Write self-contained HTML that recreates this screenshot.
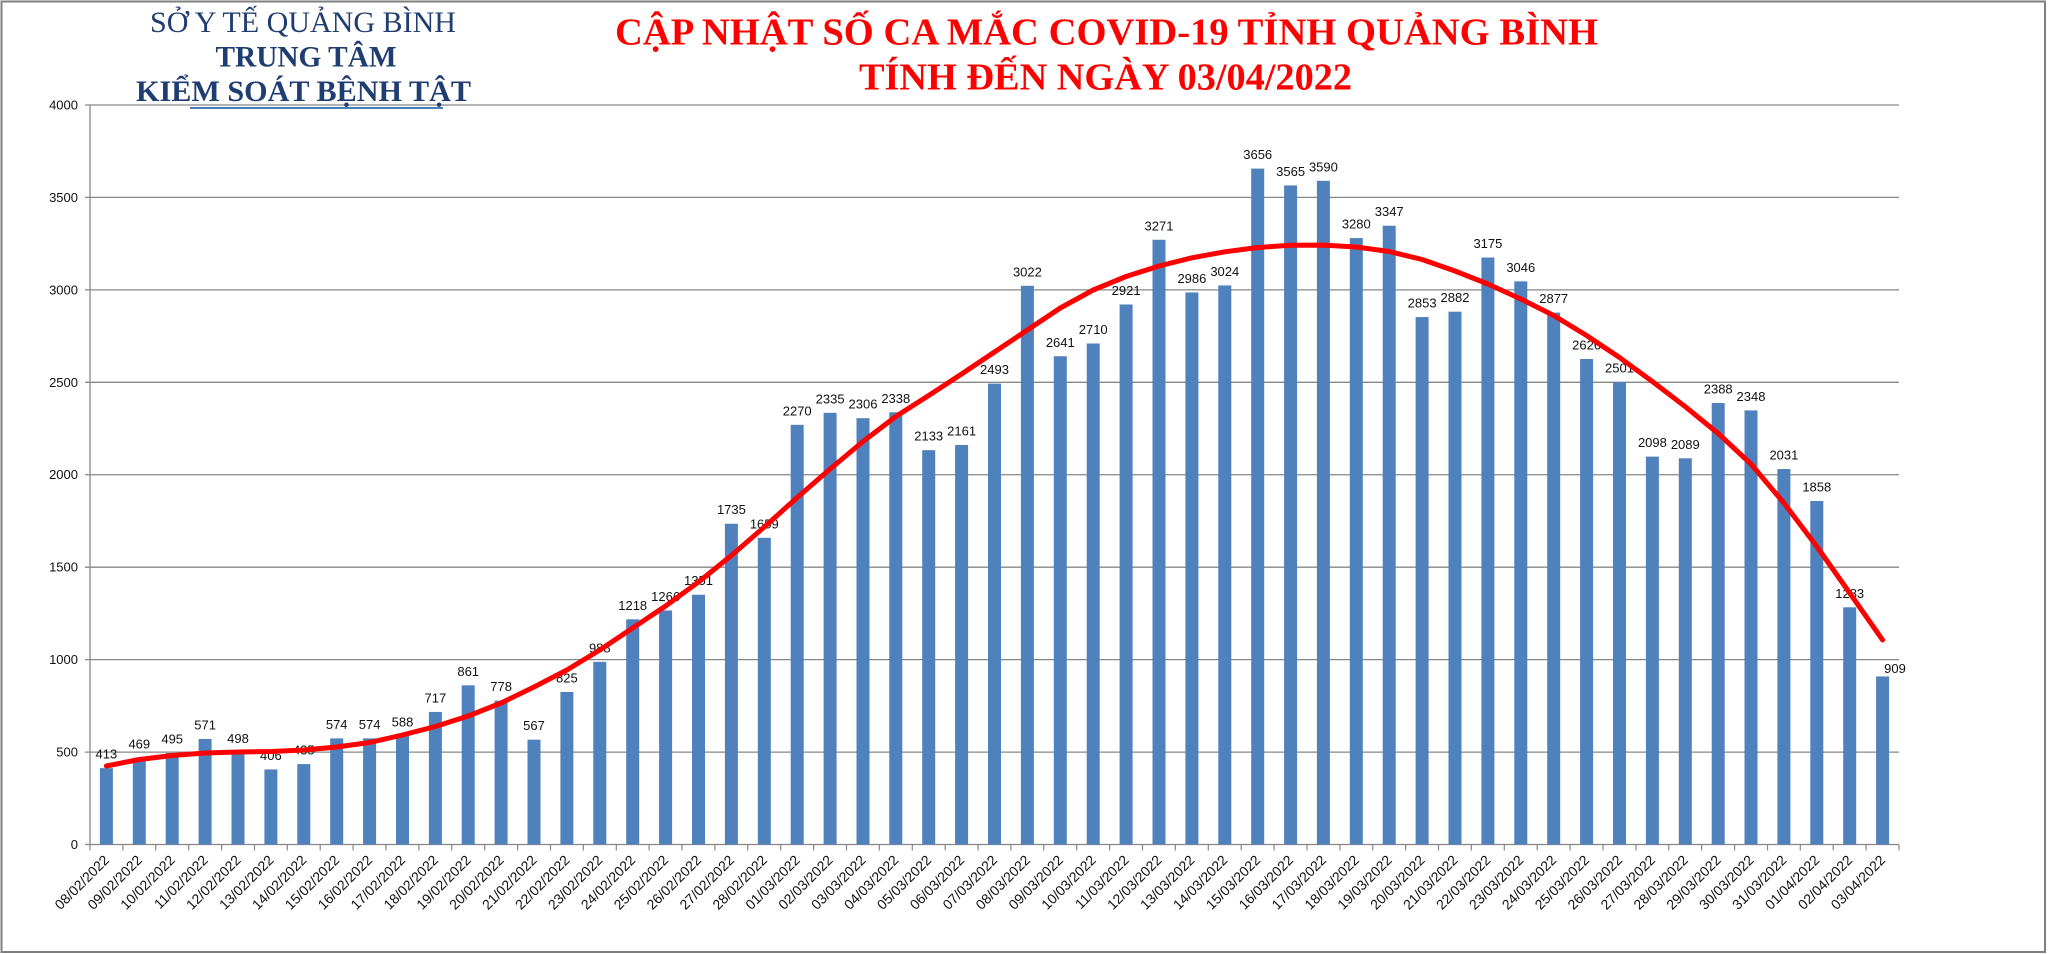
<!DOCTYPE html>
<html>
<head>
<meta charset="utf-8">
<style>
html,body{margin:0;padding:0;background:#fff;}
svg{display:block;}
.ax{font-family:"Liberation Sans",Arial,sans-serif;font-size:13px;fill:#111;}
.xl{font-family:"Liberation Sans",Arial,sans-serif;font-size:14px;fill:#111;}
.dl{font-family:"Liberation Sans",Arial,sans-serif;font-size:13px;fill:#111;text-anchor:middle;}
.hd{font-family:"Liberation Serif","Times New Roman","Noto Serif CJK SC",serif;fill:#1f3d70;text-anchor:middle;font-size:30px;}
.tt{font-family:"Liberation Serif","Times New Roman","Noto Serif CJK SC",serif;fill:#ff0000;text-anchor:middle;font-size:38px;font-weight:bold;}
</style>
</head>
<body>
<svg width="2048" height="954" viewBox="0 0 2048 954" xmlns="http://www.w3.org/2000/svg">
<rect x="0" y="0" width="2048" height="954" fill="#fff"/>
<rect x="1.5" y="1.5" width="2043.5" height="950.5" fill="none" stroke="#7f7f7f" stroke-width="2"/>

<!-- gridlines -->
<g stroke="#878787" stroke-width="1.3">
<line x1="85" y1="105" x2="1899" y2="105"/>
<line x1="85" y1="197.4" x2="1899" y2="197.4"/>
<line x1="85" y1="289.9" x2="1899" y2="289.9"/>
<line x1="85" y1="382.3" x2="1899" y2="382.3"/>
<line x1="85" y1="474.75" x2="1899" y2="474.75"/>
<line x1="85" y1="567.2" x2="1899" y2="567.2"/>
<line x1="85" y1="659.6" x2="1899" y2="659.6"/>
<line x1="85" y1="752.1" x2="1899" y2="752.1"/>
<line x1="85" y1="844.5" x2="1899" y2="844.5"/>
<line x1="90" y1="105" x2="90" y2="844.5"/>
</g>
<path stroke="#878787" stroke-width="1.2" fill="none" d="M90 844.5v6M122.9 844.5v6M155.8 844.5v6M188.7 844.5v6M221.6 844.5v6M254.5 844.5v6M287.3 844.5v6M320.2 844.5v6M353.1 844.5v6M386 844.5v6M418.9 844.5v6M451.8 844.5v6M484.7 844.5v6M517.6 844.5v6M550.5 844.5v6M583.4 844.5v6M616.3 844.5v6M649.1 844.5v6M682 844.5v6M714.9 844.5v6M747.8 844.5v6M780.7 844.5v6M813.6 844.5v6M846.5 844.5v6M879.4 844.5v6M912.3 844.5v6M945.2 844.5v6M978.1 844.5v6M1010.9 844.5v6M1043.8 844.5v6M1076.7 844.5v6M1109.6 844.5v6M1142.5 844.5v6M1175.4 844.5v6M1208.3 844.5v6M1241.2 844.5v6M1274.1 844.5v6M1307 844.5v6M1339.9 844.5v6M1372.8 844.5v6M1405.6 844.5v6M1438.5 844.5v6M1471.4 844.5v6M1504.3 844.5v6M1537.2 844.5v6M1570.1 844.5v6M1603 844.5v6M1635.9 844.5v6M1668.8 844.5v6M1701.7 844.5v6M1734.6 844.5v6M1767.5 844.5v6M1800.3 844.5v6M1833.2 844.5v6M1866.1 844.5v6M1899 844.5v6"/>

<!-- y labels -->
<g class="ax" text-anchor="end">
<text x="78" y="109.5">4000</text>
<text x="78" y="201.9">3500</text>
<text x="78" y="294.4">3000</text>
<text x="78" y="386.8">2500</text>
<text x="78" y="479.2">2000</text>
<text x="78" y="571.7">1500</text>
<text x="78" y="664.1">1000</text>
<text x="78" y="756.6">500</text>
<text x="78" y="849">0</text>
</g>

<!-- bars -->
<g fill="#4f81bd">
<rect x="99.9" y="768.15" width="13" height="76.35"/>
<rect x="132.8" y="757.79" width="13" height="86.71"/>
<rect x="165.7" y="752.99" width="13" height="91.51"/>
<rect x="198.6" y="738.94" width="13" height="105.56"/>
<rect x="231.5" y="752.43" width="13" height="92.07"/>
<rect x="264.4" y="769.44" width="13" height="75.06"/>
<rect x="297.3" y="764.08" width="13" height="80.42"/>
<rect x="330.2" y="738.38" width="13" height="106.12"/>
<rect x="363.1" y="738.38" width="13" height="106.12"/>
<rect x="396" y="735.79" width="13" height="108.71"/>
<rect x="428.9" y="711.94" width="13" height="132.56"/>
<rect x="461.7" y="685.32" width="13" height="159.18"/>
<rect x="494.6" y="700.67" width="13" height="143.83"/>
<rect x="527.5" y="739.68" width="13" height="104.82"/>
<rect x="560.4" y="691.98" width="13" height="152.52"/>
<rect x="593.3" y="661.84" width="13" height="182.66"/>
<rect x="626.2" y="619.32" width="13" height="225.18"/>
<rect x="659.1" y="610.45" width="13" height="234.05"/>
<rect x="692" y="594.73" width="13" height="249.77"/>
<rect x="724.9" y="523.74" width="13" height="320.76"/>
<rect x="757.8" y="537.79" width="13" height="306.71"/>
<rect x="790.7" y="424.83" width="13" height="419.67"/>
<rect x="823.6" y="412.82" width="13" height="431.68"/>
<rect x="856.5" y="418.18" width="13" height="426.32"/>
<rect x="889.3" y="412.26" width="13" height="432.24"/>
<rect x="922.2" y="450.16" width="13" height="394.34"/>
<rect x="955.1" y="444.98" width="13" height="399.52"/>
<rect x="988" y="383.61" width="13" height="460.89"/>
<rect x="1020.9" y="285.81" width="13" height="558.69"/>
<rect x="1053.8" y="356.25" width="13" height="488.25"/>
<rect x="1086.7" y="343.49" width="13" height="501.01"/>
<rect x="1119.6" y="304.48" width="13" height="540.02"/>
<rect x="1152.5" y="239.77" width="13" height="604.73"/>
<rect x="1185.4" y="292.46" width="13" height="552.04"/>
<rect x="1218.3" y="285.44" width="13" height="559.06"/>
<rect x="1251.2" y="168.6" width="13" height="675.9"/>
<rect x="1284.1" y="185.42" width="13" height="659.08"/>
<rect x="1316.9" y="180.8" width="13" height="663.7"/>
<rect x="1349.8" y="238.11" width="13" height="606.39"/>
<rect x="1382.7" y="225.72" width="13" height="618.78"/>
<rect x="1415.6" y="317.05" width="13" height="527.45"/>
<rect x="1448.5" y="311.69" width="13" height="532.81"/>
<rect x="1481.4" y="257.52" width="13" height="586.98"/>
<rect x="1514.3" y="281.37" width="13" height="563.13"/>
<rect x="1547.2" y="312.61" width="13" height="531.89"/>
<rect x="1580.1" y="359.02" width="13" height="485.48"/>
<rect x="1613" y="382.13" width="13" height="462.37"/>
<rect x="1645.9" y="456.63" width="13" height="387.87"/>
<rect x="1678.8" y="458.3" width="13" height="386.2"/>
<rect x="1711.7" y="403.02" width="13" height="441.48"/>
<rect x="1744.5" y="410.41" width="13" height="434.09"/>
<rect x="1777.4" y="469.02" width="13" height="375.48"/>
<rect x="1810.3" y="501" width="13" height="343.5"/>
<rect x="1843.2" y="607.3" width="13" height="237.2"/>
<rect x="1876.1" y="676.45" width="13" height="168.05"/>
</g>

<!-- data labels -->
<g class="dl">
<text x="106.4" y="758.6">413</text>
<text x="139.3" y="748.3">469</text>
<text x="172.2" y="743.5">495</text>
<text x="205.1" y="729.4">571</text>
<text x="238" y="742.9">498</text>
<text x="270.9" y="759.9">406</text>
<text x="303.8" y="754.6">435</text>
<text x="336.7" y="728.9">574</text>
<text x="369.6" y="728.9">574</text>
<text x="402.5" y="726.3">588</text>
<text x="435.4" y="702.4">717</text>
<text x="468.2" y="675.8">861</text>
<text x="501.1" y="691.2">778</text>
<text x="534" y="730.2">567</text>
<text x="566.9" y="682.5">825</text>
<text x="599.8" y="652.3">988</text>
<text x="632.7" y="609.8">1218</text>
<text x="665.6" y="601">1266</text>
<text x="698.5" y="585.2">1351</text>
<text x="731.4" y="514.2">1735</text>
<text x="764.3" y="528.3">1659</text>
<text x="797.2" y="415.3">2270</text>
<text x="830.1" y="403.3">2335</text>
<text x="863" y="408.7">2306</text>
<text x="895.8" y="402.8">2338</text>
<text x="928.7" y="440.7">2133</text>
<text x="961.6" y="435.5">2161</text>
<text x="994.5" y="374.1">2493</text>
<text x="1027.4" y="276.3">3022</text>
<text x="1060.3" y="346.8">2641</text>
<text x="1093.2" y="334">2710</text>
<text x="1126.1" y="295">2921</text>
<text x="1159" y="230.3">3271</text>
<text x="1191.9" y="283">2986</text>
<text x="1224.8" y="275.9">3024</text>
<text x="1257.7" y="159.1">3656</text>
<text x="1290.6" y="175.9">3565</text>
<text x="1323.4" y="171.3">3590</text>
<text x="1356.3" y="228.6">3280</text>
<text x="1389.2" y="216.2">3347</text>
<text x="1422.1" y="307.6">2853</text>
<text x="1455" y="302.2">2882</text>
<text x="1487.9" y="248">3175</text>
<text x="1520.8" y="271.9">3046</text>
<text x="1553.7" y="303.1">2877</text>
<text x="1586.6" y="349.5">2626</text>
<text x="1619.5" y="372.6">2501</text>
<text x="1652.4" y="447.1">2098</text>
<text x="1685.3" y="448.8">2089</text>
<text x="1718.2" y="393.5">2388</text>
<text x="1751" y="400.9">2348</text>
<text x="1783.9" y="459.5">2031</text>
<text x="1816.8" y="491.5">1858</text>
<text x="1849.7" y="597.8">1283</text>
<text x="1895" y="673">909</text>
</g>

<!-- trendline -->
<polyline fill="none" stroke="#ff0000" stroke-width="5" stroke-linejoin="round" stroke-linecap="round" points="106.4,766 139.3,759.5 172.2,755.5 205.1,753 238,752 270.9,751.5 303.8,750 336.7,747 369.6,742.5 402.5,735 435.4,726.5 468.2,716 501.1,703 534,687 566.9,670 599.8,650 632.7,628 665.6,606 698.5,582 731.4,555.5 764.3,527 797.2,497.5 830.1,469 863,441.5 895.8,416.5 928.7,395.5 961.6,374 994.5,352 1027.4,330 1060.3,308 1093.2,290 1126.1,276.5 1159,266 1191.9,257.8 1224.8,251.8 1257.7,247.5 1290.6,245.3 1323.4,245.1 1356.3,247 1389.2,251.5 1422.1,259.5 1455,271 1487.9,284 1520.8,299 1553.7,315.5 1586.6,335.5 1619.5,357.5 1652.4,381.5 1685.3,406.7 1718.2,433.5 1751,464 1783.9,503 1816.8,546.5 1849.7,593 1882.6,640"/>

<!-- x labels -->
<g class="xl" text-anchor="end">
<text transform="translate(110,861) rotate(-45)">08/02/2022</text>
<text transform="translate(142.9,861) rotate(-45)">09/02/2022</text>
<text transform="translate(175.8,861) rotate(-45)">10/02/2022</text>
<text transform="translate(208.7,861) rotate(-45)">11/02/2022</text>
<text transform="translate(241.6,861) rotate(-45)">12/02/2022</text>
<text transform="translate(274.5,861) rotate(-45)">13/02/2022</text>
<text transform="translate(307.4,861) rotate(-45)">14/02/2022</text>
<text transform="translate(340.3,861) rotate(-45)">15/02/2022</text>
<text transform="translate(373.2,861) rotate(-45)">16/02/2022</text>
<text transform="translate(406.1,861) rotate(-45)">17/02/2022</text>
<text transform="translate(439,861) rotate(-45)">18/02/2022</text>
<text transform="translate(471.8,861) rotate(-45)">19/02/2022</text>
<text transform="translate(504.7,861) rotate(-45)">20/02/2022</text>
<text transform="translate(537.6,861) rotate(-45)">21/02/2022</text>
<text transform="translate(570.5,861) rotate(-45)">22/02/2022</text>
<text transform="translate(603.4,861) rotate(-45)">23/02/2022</text>
<text transform="translate(636.3,861) rotate(-45)">24/02/2022</text>
<text transform="translate(669.2,861) rotate(-45)">25/02/2022</text>
<text transform="translate(702.1,861) rotate(-45)">26/02/2022</text>
<text transform="translate(735,861) rotate(-45)">27/02/2022</text>
<text transform="translate(767.9,861) rotate(-45)">28/02/2022</text>
<text transform="translate(800.8,861) rotate(-45)">01/03/2022</text>
<text transform="translate(833.7,861) rotate(-45)">02/03/2022</text>
<text transform="translate(866.6,861) rotate(-45)">03/03/2022</text>
<text transform="translate(899.4,861) rotate(-45)">04/03/2022</text>
<text transform="translate(932.3,861) rotate(-45)">05/03/2022</text>
<text transform="translate(965.2,861) rotate(-45)">06/03/2022</text>
<text transform="translate(998.1,861) rotate(-45)">07/03/2022</text>
<text transform="translate(1031,861) rotate(-45)">08/03/2022</text>
<text transform="translate(1063.9,861) rotate(-45)">09/03/2022</text>
<text transform="translate(1096.8,861) rotate(-45)">10/03/2022</text>
<text transform="translate(1129.7,861) rotate(-45)">11/03/2022</text>
<text transform="translate(1162.6,861) rotate(-45)">12/03/2022</text>
<text transform="translate(1195.5,861) rotate(-45)">13/03/2022</text>
<text transform="translate(1228.4,861) rotate(-45)">14/03/2022</text>
<text transform="translate(1261.3,861) rotate(-45)">15/03/2022</text>
<text transform="translate(1294.2,861) rotate(-45)">16/03/2022</text>
<text transform="translate(1327,861) rotate(-45)">17/03/2022</text>
<text transform="translate(1359.9,861) rotate(-45)">18/03/2022</text>
<text transform="translate(1392.8,861) rotate(-45)">19/03/2022</text>
<text transform="translate(1425.7,861) rotate(-45)">20/03/2022</text>
<text transform="translate(1458.6,861) rotate(-45)">21/03/2022</text>
<text transform="translate(1491.5,861) rotate(-45)">22/03/2022</text>
<text transform="translate(1524.4,861) rotate(-45)">23/03/2022</text>
<text transform="translate(1557.3,861) rotate(-45)">24/03/2022</text>
<text transform="translate(1590.2,861) rotate(-45)">25/03/2022</text>
<text transform="translate(1623.1,861) rotate(-45)">26/03/2022</text>
<text transform="translate(1656,861) rotate(-45)">27/03/2022</text>
<text transform="translate(1688.9,861) rotate(-45)">28/03/2022</text>
<text transform="translate(1721.8,861) rotate(-45)">29/03/2022</text>
<text transform="translate(1754.6,861) rotate(-45)">30/03/2022</text>
<text transform="translate(1787.5,861) rotate(-45)">31/03/2022</text>
<text transform="translate(1820.4,861) rotate(-45)">01/04/2022</text>
<text transform="translate(1853.3,861) rotate(-45)">02/04/2022</text>
<text transform="translate(1886.2,861) rotate(-45)">03/04/2022</text>
</g>

<!-- header -->
<text class="hd" x="303" y="32" textLength="306" lengthAdjust="spacingAndGlyphs">SỞ Y TẾ QUẢNG BÌNH</text>
<text class="hd" x="306" y="66.5" font-weight="bold" textLength="181" lengthAdjust="spacingAndGlyphs">TRUNG TÂM</text>
<text class="hd" x="303.5" y="101" font-weight="bold" textLength="335" lengthAdjust="spacingAndGlyphs">KIỂM SOÁT BỆNH TẬT</text>
<line x1="190" y1="108" x2="443" y2="108" stroke="#4a7ebb" stroke-width="2"/>

<!-- title -->
<text class="tt" x="1106.5" y="44.3" textLength="983" lengthAdjust="spacingAndGlyphs">CẬP NHẬT SỐ CA MẮC COVID-19 TỈNH QUẢNG BÌNH</text>
<text class="tt" x="1105.5" y="89.3" textLength="493" lengthAdjust="spacingAndGlyphs">TÍNH ĐẾN NGÀY 03/04/2022</text>
</svg>
</body>
</html>
